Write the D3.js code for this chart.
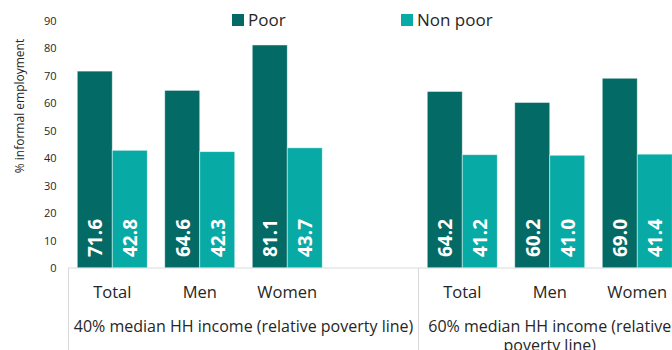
<!DOCTYPE html>
<html>
<head>
<meta charset="utf-8">
<script src="https://cdn.jsdelivr.net/npm/d3@7"></script>
<style>
  body { margin: 0; background: #fff; }
  svg { display: block; font-family: "Open Sans", sans-serif; }
</style>
</head>
<body>
<script>
const width = 672;
const height = 350;

// data
const series = ["Poor", "Non poor"];
const groups = ["40% median HH income (relative poverty line)", "60% median HH income (relative poverty line)"];
const categories = ["Total", "Men", "Women"];
const poor = [71.6, 64.6, 81.1, 64.2, 60.2, 69.0];
const nonPoor = [42.8, 42.3, 43.7, 41.2, 41.0, 41.4];
const yTicks = [0, 10, 20, 30, 40, 50, 60, 70, 80, 90];

const color = {
    "Poor": "#036a65",
    "Non poor": "#07aaa5",
    axis: "#d9d9d9",
    text: "#262626"
}

// slots: 3 categories, an empty spacer, 3 categories
let slots = [];
groups.forEach((g, gi) => {
    categories.forEach(c => slots.push({ id: gi + "-" + c, group: gi, label: c }));
    if (gi === 0) slots.push({ id: "gap", group: -1, label: "" });
});

let rows = [];
slots.filter(s => s.group >= 0).forEach((s, i) => {
    rows.push({ slot: s.id, key: "Poor", value: poor[i] });
    rows.push({ slot: s.id, key: "Non poor", value: nonPoor[i] });
});

const margin = { left: 68.5, top: 20.5, bottom: 268 };

let svg = d3.select("body").append("svg")
    .attr("width", width)
    .attr("height", height)

let x = d3.scaleBand()
    .domain(slots.map(d => d.id))
    .range([margin.left, margin.left + 87.5 * slots.length])
    .padding(0);

let x1 = d3.scaleBand()
    .domain(series)
    .range([0, x.bandwidth()])
    .paddingInner(0)
    .paddingOuter(0.25);

let y = d3.scaleLinear()
    .domain([0, 90])
    .range([margin.bottom, margin.top]);

// y axis labels only
let yAxis = svg.append("g")
    .attr("transform", "translate(" + (margin.left - 12) + ",0)")
    .call(d3.axisLeft(y).tickValues(yTicks).tickSize(0).tickPadding(0))
yAxis.select(".domain").remove();
yAxis.selectAll("text")
    .attr("font-size", 11)
    .attr("fill", color.text)
    .attr("font-family", "Open Sans, sans-serif");

svg.append("text")
    .attr("transform", "translate(19,106)rotate(-90)")
    .attr("text-anchor", "middle")
    .attr("dominant-baseline", "central")
    .attr("font-size", 12)
    .attr("fill", color.text)
    .text("% informal employment");

// bars
let barG = svg.append("g");
barG.selectAll("rect")
    .data(rows)
    .enter()
    .append("rect")
    .attr("x", d => x(d.slot) + x1(d.key))
    .attr("width", x1.bandwidth())
    .attr("y", d => y(d.value))
    .attr("height", d => y(0) - y(d.value))
    .attr("fill", d => color[d.key])
    .attr("stroke", "#ffffff")
    .attr("stroke-opacity", 0.6)
    .attr("stroke-width", 0.8);

barG.selectAll("text")
    .data(rows)
    .enter()
    .append("text")
    .attr("transform", d => "translate(" + (x(d.slot) + x1(d.key) + x1.bandwidth() / 2 + 0.5) + "," + (y(0) - 11) + ")rotate(-90)")
    .attr("dominant-baseline", "central")
    .attr("font-size", 19)
    .attr("font-weight", "bold")
    .attr("fill", "#fff")
    .text(d => d.value.toFixed(1));

// category axis lines
svg.append("line")
    .attr("x1", margin.left).attr("x2", width)
    .attr("y1", y(0)).attr("y2", y(0))
    .attr("stroke", color.axis);

let gap = x("gap") + x.bandwidth();
let groupEdges = [[margin.left, gap], [gap, x.range()[1]]];
[margin.left, gap].forEach(px => {
    svg.append("line")
        .attr("x1", px).attr("x2", px)
        .attr("y1", y(0)).attr("y2", height)
        .attr("stroke", color.axis);
});

svg.append("g").selectAll("text")
    .data(slots.filter(s => s.group >= 0))
    .enter()
    .append("text")
    .attr("x", d => x(d.id) + x.bandwidth() / 2)
    .attr("y", 298)
    .attr("text-anchor", "middle")
    .attr("font-size", 16.5)
    .attr("fill", color.text)
    .text(d => d.label);

// group labels, wrapped to their span
groups.forEach((g, gi) => {
    let [a, b] = groupEdges[gi];
    let t = svg.append("text")
        .attr("x", (a + b) / 2)
        .attr("y", 332)
        .attr("text-anchor", "middle")
        .attr("font-size", 16)
        .attr("fill", color.text);
    let words = g.split(" ");
    let line = [];
    let tspan = t.append("tspan").attr("x", (a + b) / 2).attr("dy", 0);
    words.forEach(w => {
        line.push(w);
        tspan.text(line.join(" "));
        if (tspan.node().getComputedTextLength() > (b - a) - 4 && line.length > 1) {
            line.pop();
            tspan.text(line.join(" "));
            line = [w];
            tspan = t.append("tspan").attr("x", (a + b) / 2).attr("dy", 19).text(w);
        }
    });
});

// legend
let legend = svg.append("g");
let legendX = [232, 401];
series.forEach((s, i) => {
    legend.append("rect")
        .attr("x", legendX[i]).attr("y", 14)
        .attr("width", 12).attr("height", 12)
        .attr("fill", color[s]);
    legend.append("text")
        .attr("x", legendX[i] + 16).attr("y", 26)
        .attr("font-size", 17)
        .attr("fill", color.text)
        .text(s);
});
</script>
</body>
</html>
